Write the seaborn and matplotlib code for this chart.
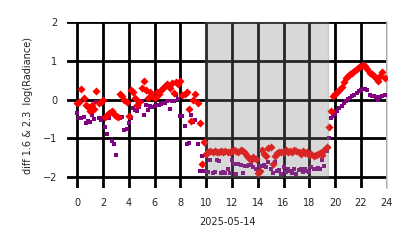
import numpy as np
import pandas as pd
import matplotlib
matplotlib.use("Agg")
import matplotlib.pyplot as plt
import seaborn as sns

# 10-minute samples over the day (hours)
hours = np.arange(144) / 6.0

red_vals = [
    -0.10, -0.05, 0.28, 0.05, -0.15, -0.20,
    -0.30, -0.15, -0.25, 0.23, -0.10, -0.05,
    0.00, -0.45, -0.40, -0.35, -0.30, -0.38,
    -0.42, -0.45, 0.15, 0.08, 0.00, -0.05,
    -0.42, 0.25, 0.20, 0.05, -0.15, -0.05,
    0.30, 0.47, 0.25, 0.05, 0.20, 0.10,
    0.05, 0.20, 0.15, 0.25, 0.30, 0.35,
    0.40, 0.30, 0.42, 0.18, 0.45, 0.40,
    0.48, 0.12, 0.15, 0.20, -0.25, -0.55,
    0.00, 0.15, -0.10, -0.60, -1.65, -1.10,
    -1.40, -1.35, -1.33, -1.35, -1.32, -1.36,
    -1.34, -1.33, -1.35, -1.32, -1.34, -1.35,
    -1.33, -1.30, -1.32, -1.35, -1.30, -1.33,
    -1.38, -1.45, -1.50, -1.55, -1.48, -1.52,
    -1.90, -1.85, -1.30, -1.40, -1.45, -1.25,
    -1.22, -1.65, -1.45, -1.38, -1.36, -1.35,
    -1.34, -1.30, -1.36, -1.33, -1.35, -1.30,
    -1.32, -1.36, -1.40, -1.33, -1.38, -1.35,
    -1.42, -1.40, -1.45, -1.43, -1.40, -1.38,
    -1.42, -1.30, -1.22, -0.70, -0.30, 0.10,
    0.15, 0.20, 0.25, 0.33, 0.45, 0.55,
    0.60, 0.65, 0.68, 0.75, 0.80, 0.83,
    0.87, 0.88, 0.86, 0.80, 0.68, 0.65,
    0.60, 0.57, 0.48, 0.62, 0.70, 0.55,
]

purple_vals = [
    -0.35, -0.48, -0.48, -0.45, -0.60, -0.55,
    -0.57, -0.39, -0.50, -0.07, -0.48, -0.52,
    -0.48, -0.70, -0.88, -0.48, -1.08, -1.15,
    -1.42, -0.48, -0.48, -0.45, -0.78, -0.76,
    -0.60, -0.48, -0.22, -0.26, -0.30, -0.20,
    -0.04, -0.39, -0.13, -0.28, -0.17, -0.19,
    -0.16, -0.15, -0.13, -0.12, -0.10, -0.08,
    -0.04, -0.23, -0.04, -0.03, 0.13, 0.02,
    -0.43, -0.42, -0.68, -1.15, -1.13, -0.39,
    -0.57, -0.52, -1.15, -1.85, -1.46, -1.85,
    -1.43, -1.87, -1.55, -1.90, -1.87, -1.55,
    -1.58, -1.90, -1.88, -1.90, -1.78, -1.90,
    -1.55, -1.65, -1.92, -1.65, -1.68, -1.90,
    -1.70, -1.72, -1.68, -1.68, -1.74, -1.80,
    -1.87, -1.70, -1.72, -1.68, -1.74, -1.60,
    -1.80, -1.90, -1.60, -1.85, -1.82, -1.92,
    -1.75, -1.88, -1.78, -1.85, -1.90, -1.80,
    -1.92, -1.82, -1.78, -1.88, -1.80, -1.85,
    -1.88, -1.75, -1.80, -1.78, -1.76, -1.78,
    -1.57, -1.70, -1.32, -1.00, -0.48, -0.43,
    -0.37, -0.30, -0.22, -0.16, -0.08, -0.04,
    0.02, 0.04, 0.09, 0.11, 0.17, 0.22,
    0.26, 0.28, 0.27, 0.24, 0.13, 0.09,
    0.09, 0.07, 0.00, 0.07, 0.10, 0.13,
]

x_ticks = list(range(0, 25, 2))
y_ticks = [-2, -1, 0, 1, 2]
night_start, night_end = 9.9, 19.45
date_label = "2025-05-14"
y_label = "diff 1.6 & 2.3  log(Radiance)"

df = pd.DataFrame({"hour": hours, "red": red_vals, "purple": purple_vals})

sns.set_style("white")
plt.rcParams["font.family"] = ["DejaVu Sans"]

fig = plt.figure(figsize=(4.14, 2.48), dpi=100)
ax = fig.add_axes([0.162, 0.242, 0.773, 0.669])

ylo, yhi = -2.28, 2.0
sns.scatterplot(data=df, x="hour", y="purple", marker="s", color="purple",
                s=10, linewidth=0, ax=ax, zorder=4)
sns.scatterplot(data=df, x="hour", y="red", marker="D", color="red",
                s=17, linewidth=0, ax=ax, zorder=5)

ax.set_xlim(-0.78, 24.03)
ax.set_ylim(ylo, yhi)
frac = (-2 - ylo) / (yhi - ylo)
ax.axvspan(night_start, night_end, ymin=frac, ymax=1, facecolor="grey",
           edgecolor="grey", alpha=0.3, lw=1.0, zorder=6)

ax.set_xticks(x_ticks)
ax.set_yticks(y_ticks)
ax.grid(True, color="black", lw=2.0)
ax.set_axisbelow(True)
ax.tick_params(axis="both", length=0, labelsize=7, colors="#222222", pad=7)

for side in ["left", "top", "bottom"]:
    ax.spines[side].set_visible(False)
ax.spines["right"].set_color("#cccccc")
ax.spines["right"].set_linewidth(1.2)

ax.set_xlabel(date_label, fontsize=7, color="#222222", labelpad=7)
ax.set_ylabel(y_label, fontsize=7, color="#222222", labelpad=7)

fig.savefig("out.png", dpi=100)
